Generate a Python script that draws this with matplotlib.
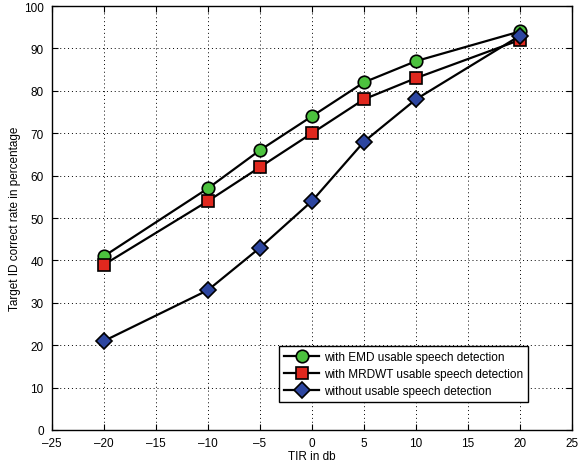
import matplotlib
matplotlib.use("Agg")
import matplotlib.pyplot as plt

plt.rcParams['font.family'] = ['Liberation Sans', 'DejaVu Sans']

tir = [-20, -10, -5, 0, 5, 10, 20]
emd = [41, 57, 66, 74, 82, 87, 94]
mrdwt = [39, 54, 62, 70, 78, 83, 92]
without = [21, 33, 43, 54, 68, 78, 93]

labels = ["with EMD usable speech detection",
          "with MRDWT usable speech detection",
          "without usable speech detection"]

fig = plt.figure(figsize=(5.82, 4.64), dpi=100)
ax = fig.add_axes([52/582, 1 - 431/464, (572-52)/582, (431-7)/464])

ax.plot(tir, emd, '-o', color='black', lw=1.6, markersize=9,
        markerfacecolor='#4cc23e', markeredgecolor='black', markeredgewidth=1.2, label=labels[0])
ax.plot(tir, mrdwt, '-s', color='black', lw=1.6, markersize=8,
        markerfacecolor='#e0281e', markeredgecolor='black', markeredgewidth=1.2, label=labels[1])
ax.plot(tir, without, '-D', color='black', lw=1.6, markersize=8,
        markerfacecolor='#2d46a0', markeredgecolor='black', markeredgewidth=1.2, label=labels[2])

ax.set_xlim(-25, 25)
ax.set_ylim(0, 100)
ax.set_xticks(range(-25, 26, 5))
ax.set_yticks(range(0, 101, 10))
ax.set_xticklabels([str(v).replace('-', '\u2013') for v in range(-25, 26, 5)])
ax.grid(True, linestyle=(0, (1, 3)), color='black', lw=0.7)
ax.tick_params(direction='in', top=True, right=True, labelsize=8.5, length=4, width=0.8)
ax.tick_params(axis='x', pad=5)
ax.tick_params(axis='y', pad=6)
for s in ax.spines.values():
    s.set_linewidth(1.0)

ax.set_xlabel("TIR in db", fontsize=8.5, labelpad=1)
ax.set_ylabel("Target ID correct rate in percentage", fontsize=8.5, labelpad=2)

leg = ax.legend(loc='lower right', bbox_to_anchor=(0.915, 0.066), fontsize=8.5,
                frameon=True, fancybox=False, edgecolor='black', framealpha=1,
                handlelength=3.0, borderpad=0.4, labelspacing=0.45, handletextpad=0.4,
                borderaxespad=0)
leg.get_frame().set_linewidth(1.0)

fig.savefig("out.png", dpi=100)
